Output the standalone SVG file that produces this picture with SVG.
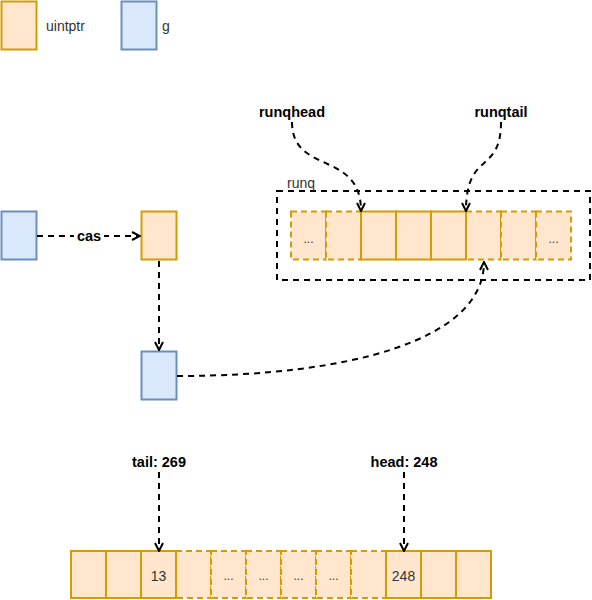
<svg xmlns="http://www.w3.org/2000/svg" width="592" height="600" viewBox="0 0 592 600">
<style>
.u{fill:#ffe6cc;stroke:#d79b00;stroke-width:2}
.ud{fill:#ffe6cc;stroke:#d79b00;stroke-width:2;stroke-dasharray:6 4}
.g{fill:#dae8fc;stroke:#6c8ebf;stroke-width:2}
.e{fill:none;stroke:#000;stroke-width:2;stroke-dasharray:6 5}
.t{font-family:"Liberation Sans",Arial,sans-serif;font-size:14px;fill:#333}
.b{font-family:"Liberation Sans",Arial,sans-serif;font-size:14.5px;font-weight:bold;fill:#000;text-anchor:middle}
.c{font-family:"Liberation Sans",Arial,sans-serif;font-size:14px;fill:#333;text-anchor:middle}
.d{font-family:"Liberation Sans",Arial,sans-serif;font-size:12px;fill:#333;text-anchor:middle}
</style>
<defs>
<marker id="ar" viewBox="0 0 10 10" refX="9" refY="5" markerWidth="10" markerHeight="10" markerUnits="userSpaceOnUse" orient="auto">
<path d="M1,1 L9,5 L1,9" fill="none" stroke="#000" stroke-width="2"/>
</marker>
</defs>
<g id="legend-uintptr"><rect class="u" x="1.5" y="1.5" width="35" height="48"/><text class="t" x="46" y="31">uintptr</text></g>
<g id="legend-g"><rect class="g" x="121.5" y="1.5" width="35" height="48"/><text class="t" x="162" y="31">g</text></g>
<g id="g1"><rect class="g" x="1.5" y="211.5" width="35" height="48"/></g>
<g id="u1"><rect class="u" x="141.5" y="211.5" width="35" height="48"/></g>
<g id="g2"><rect class="g" x="141.5" y="351.5" width="35" height="48"/></g>
<g id="runq">
<rect x="277" y="191" width="313" height="89" fill="none" stroke="#000" stroke-width="2" stroke-dasharray="6 5"/>
<text class="t" x="287" y="188">runq</text>
<rect class="ud" x="291" y="211.5" width="35" height="48"/>
<rect class="ud" x="326" y="211.5" width="35" height="48"/>
<rect class="ud" x="466" y="211.5" width="35" height="48"/>
<rect class="ud" x="501" y="211.5" width="35" height="48"/>
<rect class="ud" x="536" y="211.5" width="35" height="48"/>
<rect class="u" x="361" y="211.5" width="35" height="48"/>
<rect class="u" x="396" y="211.5" width="35" height="48"/>
<rect class="u" x="431" y="211.5" width="35" height="48"/>
<text class="d" x="308.5" y="243">...</text>
<text class="d" x="553.5" y="243">...</text>
</g>
<g id="ring">
<rect class="ud" x="176" y="551" width="35" height="47"/>
<rect class="ud" x="211" y="551" width="35" height="47"/>
<rect class="ud" x="246" y="551" width="35" height="47"/>
<rect class="ud" x="281" y="551" width="35" height="47"/>
<rect class="ud" x="316" y="551" width="35" height="47"/>
<rect class="ud" x="351" y="551" width="35" height="47"/>
<rect class="u" x="71" y="551" width="35" height="47"/>
<rect class="u" x="106" y="551" width="35" height="47"/>
<rect class="u" x="141" y="551" width="35" height="47"/>
<rect class="u" x="386" y="551" width="35" height="47"/>
<rect class="u" x="421" y="551" width="35" height="47"/>
<rect class="u" x="456" y="551" width="35" height="47"/>
<text class="c" x="158.5" y="581">13</text>
<text class="d" x="228.5" y="580">...</text>
<text class="d" x="263.5" y="580">...</text>
<text class="d" x="298.5" y="580">...</text>
<text class="d" x="333.5" y="580">...</text>
<text class="c" x="403.5" y="581">248</text>
</g>
<g id="labels">
<text class="b" x="292" y="117">runqhead</text>
<text class="b" x="501" y="117">runqtail</text>
<text class="b" x="159" y="467">tail: 269</text>
<text class="b" x="404" y="467">head: 248</text>
</g>
<g id="connectors">
<path class="e" d="M37,236 L140,236" marker-end="url(#ar)"/>
<rect x="74" y="227" width="30" height="18" fill="#fff"/>
<text class="b" x="89" y="241">cas</text>
<path class="e" d="M159,261 L159,350" marker-end="url(#ar)"/>
<path class="e" d="M177,376 C350,376 484,340 484,262" marker-end="url(#ar)"/>
<path class="e" d="M292,122 C292,175 361,150 361,211" marker-end="url(#ar)"/>
<path class="e" d="M501,122 C501,175 466,150 466,211" marker-end="url(#ar)"/>
<path class="e" d="M159,472 L159,551" marker-end="url(#ar)"/>
<path class="e" d="M404,472 L404,551" marker-end="url(#ar)"/>
</g>
</svg>
